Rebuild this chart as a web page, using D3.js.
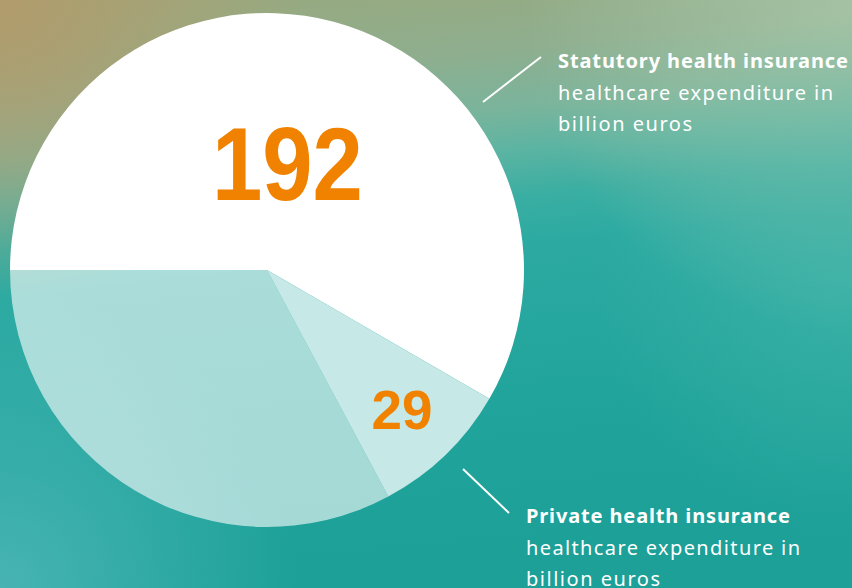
<!DOCTYPE html>
<html>
<head>
<meta charset="utf-8">
<script src="https://cdn.jsdelivr.net/npm/d3@7"></script>
<style>
  html, body { margin: 0; padding: 0; background: #1ea39a; }
  svg { display: block; }
</style>
</head>
<body>
<div class="chart"></div>
<script>
// values in billion euros
const categories = ['Statutory health insurance', 'Private health insurance', 'Other']
const values = [192, 29, 108]
const shownLabels = ['192', '29', '']
const sliceColors = ['#ffffff', '#c6e8e6', 'rgba(255,255,255,0.6)']
const subLines = ['healthcare expenditure in', 'billion euros']

const width = 852
const height = 588
const cx = 267, cy = 270, radius = 257

const svg = d3.select('div.chart').append('svg')
    .attr('width', width)
    .attr('height', height)

// ========= BACKGROUND =========== \\
const defs = svg.append('defs')

const bg = defs.append('linearGradient')
    .attr('id', 'bg')
    .attr('gradientUnits', 'userSpaceOnUse')
    .attr('x1', 0).attr('y1', 0)
    .attr('x2', 60).attr('y2', 588)
const bgStops = [
    [0, '#9aa87c'], [0.17, '#8eae8e'], [0.27, '#7ab49c'], [0.34, '#5cb4a2'],
    [0.42, '#3aaea2'], [0.5, '#2caaa2'], [0.8, '#1fa39a'], [1, '#1ca098']
]
bgStops.forEach(s => bg.append('stop').attr('offset', s[0]).attr('stop-color', s[1]))

function addGlow(id, gx, gy, r, color, op) {
    const g = defs.append('radialGradient')
        .attr('id', id)
        .attr('gradientUnits', 'userSpaceOnUse')
        .attr('cx', gx).attr('cy', gy).attr('r', r)
    g.append('stop').attr('offset', 0).attr('stop-color', color).attr('stop-opacity', op)
    g.append('stop').attr('offset', 1).attr('stop-color', color).attr('stop-opacity', 0)
    svg.append('rect').attr('width', width).attr('height', height).attr('fill', `url(#${id})`)
}

svg.append('rect').attr('width', width).attr('height', height).attr('fill', 'url(#bg)')
addGlow('light', 852, 0, 330, '#a8c6a8', 0.85)
addGlow('side', 852, 280, 260, '#48b8ac', 0.6)
addGlow('warm', 0, 0, 300, '#b29c6c', 1)
addGlow('cool', 0, 588, 300, '#4cb6b6', 0.9)

// ============ DRAW SLICES ============== \\
const chartArea = svg.append('g')
    .attr('transform', `translate(${cx},${cy})`)

const pie = d3.pie()
    .sort(null)
    .startAngle(-Math.PI / 2)
    .endAngle(Math.PI * 1.5)

const arc = d3.arc().innerRadius(0).outerRadius(radius)
const arcs = pie(values)

chartArea.selectAll('path.slice')
    .data(arcs)
    .join('path')
    .attr('class', 'slice')
    .attr('d', arc)
    .attr('fill', (d, i) => sliceColors[i])

// ============ DRAW LABELS ============== \\
// where each number sits: angle offset from slice middle, radius fraction, size, width
const labelPos = [
    { da: -0.074, r: 0.424, size: 104, w: 151 },
    { da: 0, r: 0.755, size: 55, w: 61 }
]
arcs.slice(0, 2).forEach((d, i) => {
    const p = labelPos[i]
    const a = (d.startAngle + d.endAngle) / 2 + p.da
    const x = Math.sin(a) * radius * p.r
    const y = -Math.cos(a) * radius * p.r
    chartArea.append('text')
        .attr('x', x - p.w / 2)
        .attr('y', y)
        .attr('dy', '0.36em')
        .attr('font-family', 'Liberation Sans, Arial, sans-serif')
        .attr('font-weight', 'bold')
        .attr('font-size', p.size)
        .attr('textLength', p.w)
        .attr('lengthAdjust', 'spacingAndGlyphs')
        .attr('fill', '#f08200')
        .text(shownLabels[i])
})

// ============ CALLOUTS ============== \\
const callouts = [
    { idx: 0, line: [[483, 102], [541, 57]], x: 558, y: 68, widths: [290, 275, 134] },
    { idx: 1, line: [[463, 469], [509, 513]], x: 526, y: 523, widths: [264, 274, 134] }
]

callouts.forEach(c => {
    svg.append('line')
        .attr('x1', c.line[0][0]).attr('y1', c.line[0][1])
        .attr('x2', c.line[1][0]).attr('y2', c.line[1][1])
        .attr('stroke', '#ffffff')
        .attr('stroke-width', 2)

    const lines = [categories[c.idx]].concat(subLines)
    lines.forEach((s, k) => {
        svg.append('text')
            .attr('x', c.x)
            .attr('y', c.y + k * 31.5)
            .attr('fill', '#ffffff')
            .attr('font-family', 'Noto Sans, Open Sans, sans-serif')
            .attr('font-size', 20)
            .attr('font-weight', k === 0 ? 'bold' : 'normal')
            .attr('textLength', c.widths[k])
            .attr('lengthAdjust', 'spacing')
            .text(s)
    })
})
</script>
</body>
</html>
